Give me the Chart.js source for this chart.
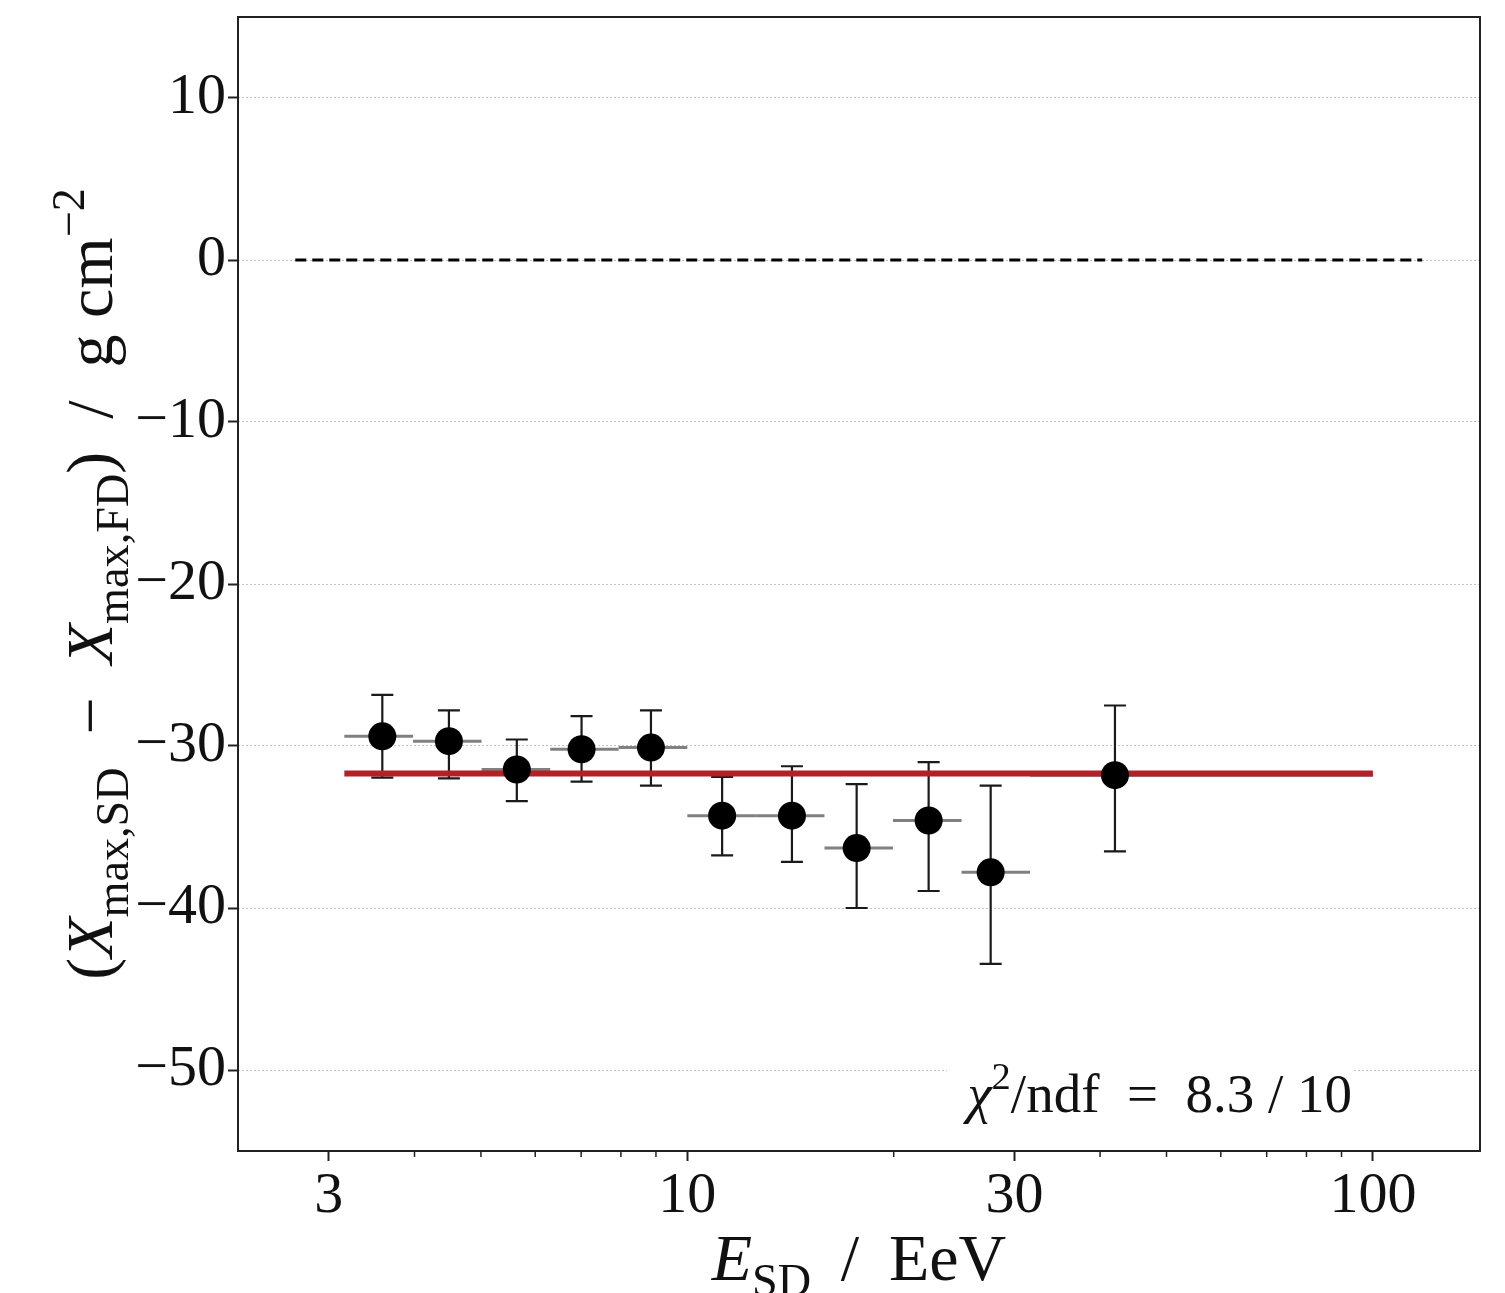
<!DOCTYPE html>
<html>
<head>
<meta charset="utf-8">
<script src="https://cdn.jsdelivr.net/npm/chart.js@4/dist/chart.umd.min.js"></script>
<style>
    html, body { margin: 0; padding: 0; background: #fff; }
    canvas { display: block; }
</style>
</head>
<body>
<canvas id="xmaxChart" width="1505" height="1293"></canvas>
<script>
// bin centres (EeV) and Xmax offset SD - FD (g/cm^2)
const energy = [3.59, 4.49, 5.64, 7.01, 8.85, 11.24, 14.21, 17.66, 22.49, 27.70, 42.05];
const binLow = [3.16, 3.98, 5.01, 6.31, 7.94, 10.0, 12.59, 15.85, 19.95, 25.12, 31.62];
const binHigh = [3.98, 5.01, 6.31, 7.94, 10.0, 12.59, 15.85, 19.95, 25.12, 31.62, 100];
const deltaXmax = [-29.4, -29.7, -31.45, -30.2, -30.1, -34.3, -34.3, -36.3, -34.6, -37.8, -31.8];
const errHigh = [2.55, 1.9, 1.85, 2.05, 2.3, 2.4, 3.05, 3.95, 3.6, 5.35, 4.3];
const errLow = [2.55, 2.3, 1.95, 2.0, 2.35, 2.45, 2.85, 3.7, 4.35, 5.65, 4.7];

// constant fit and reference line
const fitValue = -31.7;
const fitRange = [3.16, 100];
const zeroRange = [2.68, 118];
const chi2Text = '8.3 / 10';

// axis ticks
const xTicks = [3, 10, 30, 100];
const xMinor = [4, 5, 6, 7, 8, 9, 20, 40, 50, 60, 70, 80, 90];
const yTicks = [-50, -40, -30, -20, -10, 0, 10];

const SERIF = '"Liberation Serif", "DejaVu Serif", serif';

// draws a run of text pieces with italic / sub / superscript parts
function richWidth(ctx, parts, size) {
    let w = 0;
    parts.forEach(p => {
        const s = (p.sub || p.sup) ? size * 0.7 : size;
        ctx.font = (p.it ? 'italic ' : '') + s + 'px ' + SERIF;
        w += ctx.measureText(p.t).width;
    });
    return w;
}
function drawRich(ctx, parts, x, y, size) {
    let cx = x;
    parts.forEach(p => {
        const s = (p.sub || p.sup) ? size * 0.7 : size;
        ctx.font = (p.it ? 'italic ' : '') + s + 'px ' + SERIF;
        let dy = 0;
        if (p.sub) dy = size * 0.24;
        if (p.sup) dy = -size * 0.42;
        ctx.fillText(p.t, cx, y + dy);
        cx += ctx.measureText(p.t).width;
    });
}

const decorations = {
    id: 'decorations',
    beforeDatasetsDraw(chart) {
        const ctx = chart.ctx;
        const xs = chart.scales.x, ys = chart.scales.y;
        ctx.save();
        // horizontal bin widths
        ctx.strokeStyle = '#808080';
        ctx.lineWidth = 3;
        energy.forEach((e, i) => {
            const py = ys.getPixelForValue(deltaXmax[i]);
            ctx.beginPath();
            ctx.moveTo(xs.getPixelForValue(binLow[i]), py);
            ctx.lineTo(xs.getPixelForValue(binHigh[i]), py);
            ctx.stroke();
        });
        // vertical error bars with caps
        ctx.strokeStyle = '#1a1a1a';
        ctx.lineWidth = 2.2;
        energy.forEach((e, i) => {
            const px = xs.getPixelForValue(e);
            const top = ys.getPixelForValue(deltaXmax[i] + errHigh[i]);
            const bot = ys.getPixelForValue(deltaXmax[i] - errLow[i]);
            ctx.beginPath();
            ctx.moveTo(px, top); ctx.lineTo(px, bot);
            ctx.moveTo(px - 11, top); ctx.lineTo(px + 11, top);
            ctx.moveTo(px - 11, bot); ctx.lineTo(px + 11, bot);
            ctx.stroke();
        });
        ctx.restore();
    },
    afterDatasetsDraw(chart) {
        const ctx = chart.ctx;
        ctx.save();
        // fit quality box
        const parts = [
            {t: 'χ', it: true}, {t: '2', sup: true}, {t: '/ndf  =  ' + chi2Text}
        ];
        const size = 55;
        const w = richWidth(ctx, parts, size);
        ctx.fillStyle = '#fff';
        ctx.fillRect(947, 1052, 405, 88);
        ctx.fillStyle = '#111';
        ctx.textBaseline = 'alphabetic';
        drawRich(ctx, parts, 1352 - w, 1112, size);
        ctx.restore();
    },
    afterDraw(chart) {
        const ctx = chart.ctx;
        const area = chart.chartArea;
        const xs = chart.scales.x;
        ctx.save();
        // minor ticks on the energy axis
        ctx.strokeStyle = '#222';
        ctx.lineWidth = 1.5;
        xMinor.forEach(v => {
            const px = xs.getPixelForValue(v);
            ctx.beginPath();
            ctx.moveTo(px, area.bottom);
            ctx.lineTo(px, area.bottom + 6);
            ctx.stroke();
        });
        // frame
        ctx.lineWidth = 2;
        ctx.strokeRect(area.left, area.top, area.right - area.left, area.bottom - area.top);

        // axis titles
        ctx.fillStyle = '#111';
        ctx.textBaseline = 'alphabetic';
        const size = 66;
        const xTitle = [
            {t: 'E', it: true}, {t: 'SD', sub: true}, {t: ' \u2009/ \u2009EeV'}
        ];
        const xw = richWidth(ctx, xTitle, size);
        drawRich(ctx, xTitle, (area.left + area.right) / 2 - xw / 2, 1280, size);

        const yTitle = [
            {t: '('}, {t: 'X', it: true}, {t: 'max,SD', sub: true}, {t: '  −  '},
            {t: 'X', it: true}, {t: 'max,FD', sub: true}, {t: ')  /  g cm'}, {t: '−2', sup: true}
        ];
        const yw = richWidth(ctx, yTitle, size);
        ctx.translate(112, (area.top + area.bottom) / 2);
        ctx.rotate(-Math.PI / 2);
        drawRich(ctx, yTitle, -yw / 2, 0, size);
        ctx.restore();
    }
};

const ctx = document.getElementById('xmaxChart').getContext('2d');
window.xmaxChart = new Chart(ctx, {
    type: 'scatter',
    data: {
        datasets: [
            {
                label: 'data',
                data: energy.map((e, i) => ({x: e, y: deltaXmax[i]})),
                pointRadius: 14,
                pointBackgroundColor: '#000',
                pointBorderWidth: 0,
                showLine: false,
                order: 0
            },
            {
                label: 'fit',
                data: fitRange.map(e => ({x: e, y: fitValue})),
                borderColor: '#b22028',
                borderWidth: 6,
                pointRadius: 0,
                showLine: true,
                order: 1
            },
            {
                label: 'zero',
                data: zeroRange.map(e => ({x: e, y: 0})),
                borderColor: '#000',
                borderWidth: 3,
                borderDash: [11, 6],
                pointRadius: 0,
                showLine: true,
                order: 2
            }
        ]
    },
    options: {
        responsive: false,
        animation: false,
        layout: {
            padding: {left: 0, top: 17, right: 25, bottom: 0}
        },
        plugins: {
            legend: {display: false},
            tooltip: {enabled: false},
            title: {display: false}
        },
        scales: {
            x: {
                type: 'logarithmic',
                min: 2.211,
                max: 143.3,
                afterBuildTicks: scale => { scale.ticks = xTicks.map(v => ({value: v})); },
                afterFit: scale => {
                    scale.height = 142;
                    scale.paddingLeft = 0;
                    scale.paddingRight = 0;
                },
                border: {display: false},
                grid: {
                    drawOnChartArea: false,
                    drawTicks: true,
                    tickLength: 10,
                    tickWidth: 2,
                    tickColor: '#222'
                },
                ticks: {
                    autoSkip: false,
                    maxRotation: 0,
                    padding: 1,
                    color: '#111',
                    font: {family: SERIF, size: 58},
                    callback: v => String(v)
                }
            },
            y: {
                min: -55,
                max: 15,
                afterBuildTicks: scale => { scale.ticks = yTicks.map(v => ({value: v})); },
                afterFit: scale => {
                    scale.width = 238;
                    scale.paddingTop = 0;
                    scale.paddingBottom = 0;
                },
                border: {display: false, dash: [2, 2]},
                grid: {
                    color: '#c4c4c4',
                    lineWidth: 1,
                    drawTicks: true,
                    tickLength: 10,
                    tickWidth: 2,
                    tickColor: '#222'
                },
                ticks: {
                    padding: 2,
                    color: '#111',
                    font: {family: SERIF, size: 58},
                    callback: v => v < 0 ? '−' + Math.abs(v) : String(v)
                }
            }
        }
    },
    plugins: [decorations]
});
</script>
</body>
</html>
